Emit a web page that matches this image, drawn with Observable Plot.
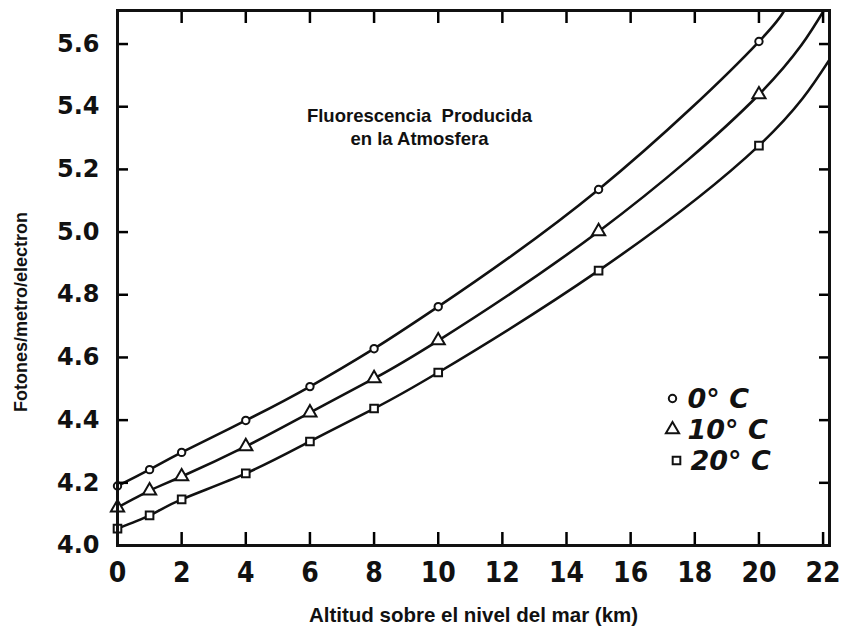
<!DOCTYPE html>
<html>
<head>
<meta charset="utf-8">
<script src="https://cdn.jsdelivr.net/npm/d3@7"></script>
<script src="https://cdn.jsdelivr.net/npm/@observablehq/plot@0.6"></script>
<style>
  html, body { margin: 0; padding: 0; background: #fff; }
  svg { display: block; }
</style>
</head>
<body>
<div id="chart"></div>
<script>
// Data
const altitudes = [0, 1, 2, 4, 6, 8, 10, 15, 20];
const series0C  = [4.19, 4.242, 4.297, 4.399, 4.507, 4.628, 4.762, 5.136, 5.608];
const series10C = [4.121, 4.175, 4.22, 4.316, 4.424, 4.533, 4.654, 5.002, 5.439];
const series20C = [4.054, 4.096, 4.147, 4.23, 4.332, 4.437, 4.552, 4.877, 5.276];
// where each drawn curve leaves the frame
const curveEndX = [20.8, 22.1, 22.2];
const curveEndY = [5.74, 5.72, 5.55];
const seriesLabels = ["0° C", "10° C", "20° C"];
const seriesSymbols = ["circle", "triangle", "square"];
const xTicks = [0, 2, 4, 6, 8, 10, 12, 14, 16, 18, 20, 22];
const yTicks = [4.0, 4.2, 4.4, 4.6, 4.8, 5.0, 5.2, 5.4, 5.6];
const titleText = "Fluorescencia \u00a0Producida\nen la Atmosfera";
const xLabel = "Altitud sobre el nivel del mar (km)";
const yLabel = "Fotones/metro/electron";

const allSeries = [series0C, series10C, series20C];
const points = [];
allSeries.forEach((vals, s) => vals.forEach((v, i) => points.push({x: altitudes[i], y: v, s})));
const curves = allSeries.map((vals, s) => {
  const arr = vals.map((v, i) => ({x: altitudes[i], y: v}));
  arr.push({x: curveEndX[s], y: curveEndY[s]});
  return arr;
});

const symbolSizes = {circle: 3.7, triangle: 4.9, square: 4.3};
const tickFont = "'DejaVu Sans', sans-serif";
const condFont = "'DejaVu Sans Condensed', 'DejaVu Sans', sans-serif";
const sansFont = "'Liberation Sans', Arial, sans-serif";

const marks = [];
curves.forEach(c => marks.push(Plot.line(c, {x: "x", y: "y", curve: "natural", stroke: "#111", strokeWidth: 2.6, clip: true})));
seriesSymbols.forEach((sym, s) => {
  marks.push(Plot.dot(points.filter(p => p.s === s), {x: "x", y: "y", symbol: sym, r: symbolSizes[sym], fill: "white", stroke: "#111", strokeWidth: 2}));
});
// axes with inward ticks
marks.push(Plot.axisX({anchor: "bottom", ticks: xTicks, tickSize: -13, tickPadding: 30, strokeWidth: 2.5, fontSize: 28, fontWeight: "bold", fontFamily: condFont, fill: "#111", label: null, tickFormat: d => String(d)}));
marks.push(Plot.axisX({anchor: "top", ticks: xTicks, tickSize: -12, strokeWidth: 2.5, label: null, tickFormat: () => ""}));
marks.push(Plot.axisY({anchor: "left", ticks: yTicks, tickSize: -11, tickPadding: 29, strokeWidth: 2.5, fontSize: 24, fontWeight: "bold", fontFamily: tickFont, fill: "#111", label: null, tickFormat: d => d.toFixed(1), style: {letterSpacing: "1.5px"}}));
marks.push(Plot.axisY({anchor: "right", ticks: yTicks, tickSize: -11, strokeWidth: 2.5, label: null, tickFormat: () => ""}));
marks.push(Plot.frame({stroke: "#111", strokeWidth: 3}));
// title inside the plot
marks.push(Plot.text([titleText], {frameAnchor: "top-left", dx: 302, dy: 116, text: d => d, textAnchor: "middle", lineAnchor: "middle", lineHeight: 1.25, fontSize: 18.5, fontWeight: "bold", fontFamily: sansFont, fill: "#111"}));
// legend
seriesLabels.forEach((lab, s) => {
  marks.push(Plot.dot([lab], {frameAnchor: "top-left", dx: 555 + (s === 2 ? 4 : 0), dy: 388 + s * 31, symbol: seriesSymbols[s], r: symbolSizes[seriesSymbols[s]], fill: "white", stroke: "#111", strokeWidth: 2}));
  marks.push(Plot.text([lab], {frameAnchor: "top-left", dx: 570 + (s === 2 ? 3 : 0), dy: 389 + s * 31, text: d => d, textAnchor: "start", lineAnchor: "middle", fontSize: 27, fontWeight: "bold", fontStyle: "italic", fontFamily: tickFont, fill: "#111", style: {letterSpacing: "1px"}}));
});
// axis titles
marks.push(Plot.text([xLabel], {frameAnchor: "bottom", dy: 70, text: d => d, textAnchor: "middle", lineAnchor: "middle", fontSize: 20.5, fontWeight: "bold", fontFamily: sansFont, fill: "#111"}));
marks.push(Plot.text([yLabel], {frameAnchor: "left", dx: -96, dy: 34, text: d => d, rotate: -90, textAnchor: "middle", lineAnchor: "middle", fontSize: 18, fontWeight: "bold", fontFamily: sansFont, fill: "#111"}));

const chart = Plot.plot({
  width: 842,
  height: 628,
  marginLeft: 117,
  marginRight: 13,
  marginTop: 10,
  marginBottom: 83,
  x: {domain: [0, 22.2]},
  y: {domain: [4.0, 5.707]},
  style: {background: "white", overflow: "visible"},
  marks
});
document.getElementById("chart").appendChild(chart);
</script>
</body>
</html>
